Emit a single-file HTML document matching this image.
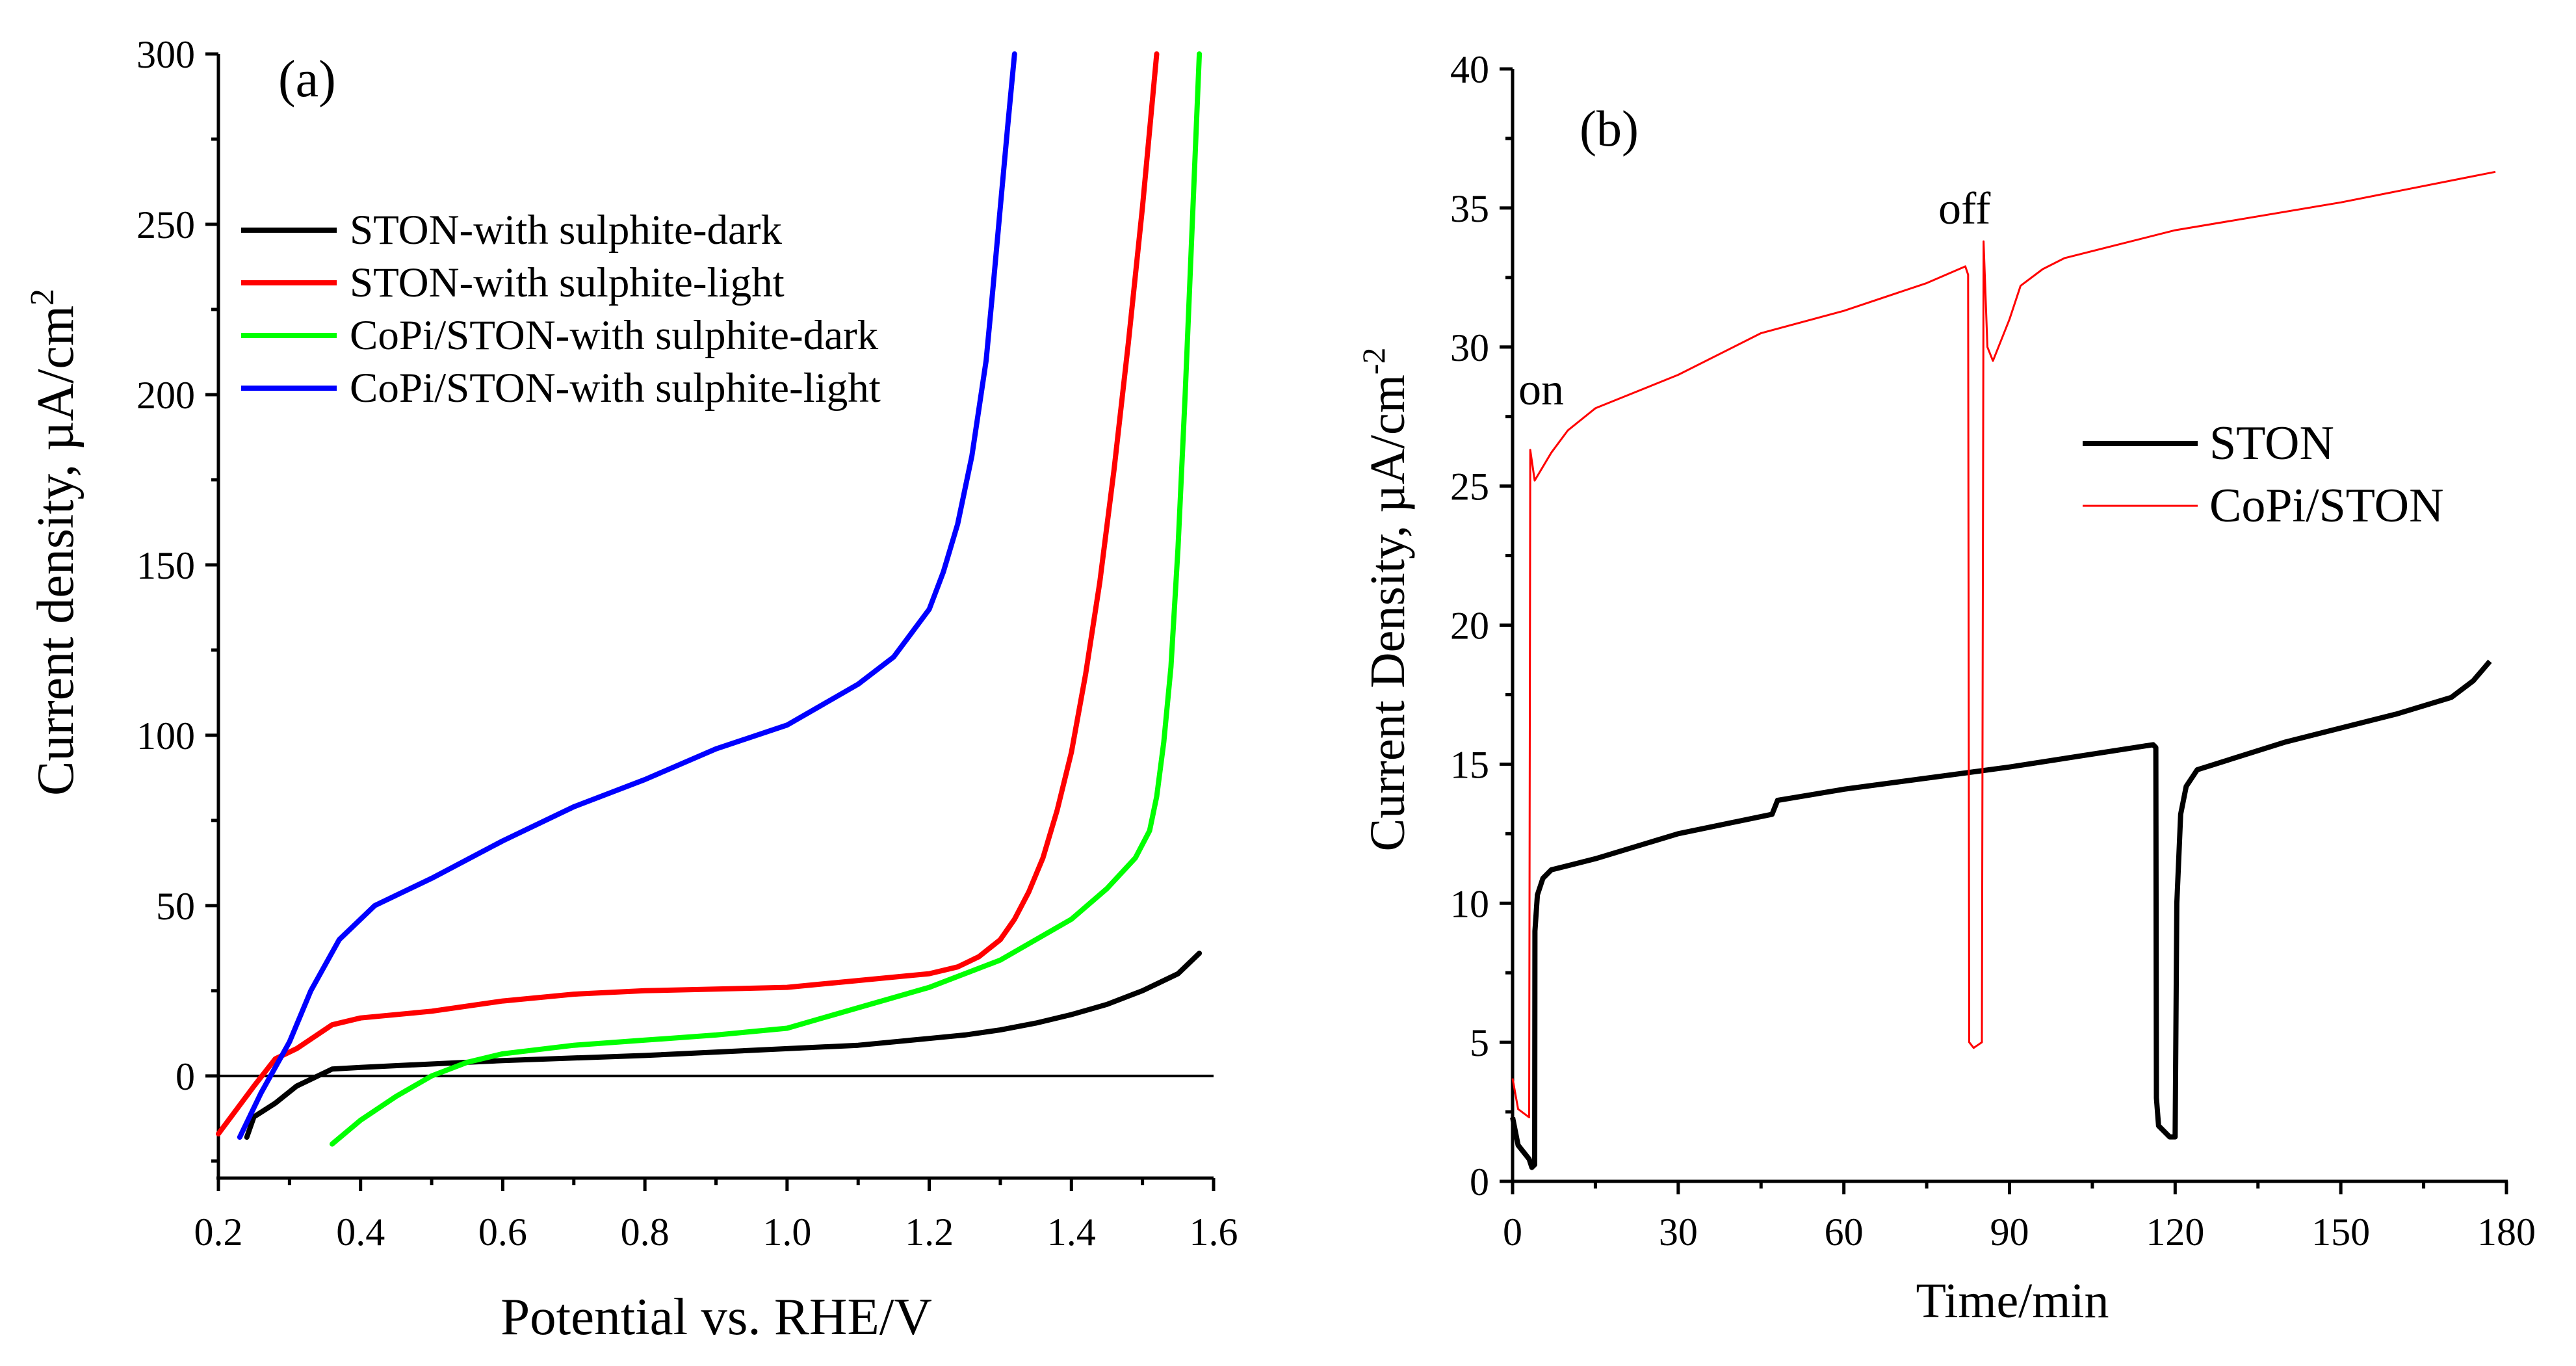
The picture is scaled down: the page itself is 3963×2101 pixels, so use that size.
<!DOCTYPE html>
<html><head><meta charset="utf-8"><style>
html,body{margin:0;padding:0;background:#fff;}
svg{display:block;font-family:"Liberation Serif",serif;}
</style></head><body>
<svg id="chart" width="3963" height="2101" viewBox="0 0 3963 2101" xmlns="http://www.w3.org/2000/svg">
<rect width="3963" height="2101" fill="#fff"/>
</svg>
<script>
// Panel (a) data: potential (V) vs current density (µA/cm²)
const aXTicks = [0.2,0.4,0.6,0.8,1.0,1.2,1.4,1.6];
const aYTicks = [0,50,100,150,200,250,300];
const aNames = ["STON-with sulphite-dark","STON-with sulphite-light","CoPi/STON-with sulphite-dark","CoPi/STON-with sulphite-light"];
const aBlackX = [0.24,0.25,0.28,0.31,0.34,0.36,0.4,0.6,0.8,1.0,1.1,1.2,1.25,1.3,1.35,1.4,1.45,1.5,1.53,1.55,1.58];
const aBlackY = [-18,-12,-8,-3,0,2,2.5,4.5,6,8,9,11,12,13.5,15.5,18,21,25,28,30,36];
const aRedX = [0.2,0.25,0.28,0.31,0.36,0.4,0.5,0.6,0.7,0.8,0.9,1.0,1.1,1.2,1.24,1.27,1.3,1.32,1.34,1.36,1.38,1.4,1.42,1.44,1.46,1.48,1.5,1.52];
const aRedY = [-17,-3,5,8,15,17,19,22,24,25,25.5,26,28,30,32,35,40,46,54,64,78,95,118,145,178,215,255,300];
const aGreenX = [0.36,0.4,0.45,0.5,0.55,0.6,0.7,0.8,0.9,1.0,1.05,1.1,1.2,1.3,1.4,1.45,1.49,1.51,1.52,1.53,1.54,1.55,1.56,1.57,1.58];
const aGreenY = [-20,-13,-6,0,4,6.5,9,10.5,12,14,17,20,26,34,46,55,64,72,82,98,120,155,200,250,300];
const aBlueX = [0.23,0.26,0.3,0.33,0.37,0.42,0.5,0.6,0.7,0.8,0.9,1.0,1.1,1.15,1.2,1.22,1.24,1.26,1.28,1.29,1.3,1.31,1.32];
const aBlueY = [-18,-5,10,25,40,50,58,69,79,87,96,103,115,123,137,148,162,182,210,232,255,278,300];
// Panel (b) data: time (min) vs current density
const bXTicks = [0,30,60,90,120,150,180];
const bYTicks = [0,5,10,15,20,25,30,35,40];
const bNames = ["STON","CoPi/STON"];
const bBlackX = [0,1,3,3.5,4,4.05,4.5,5.5,7,15,30,47,48,60,90,116,116.5,116.6,117,119,120,120.3,121,122,124,140,160,170,174,177];
const bBlackY = [2.3,1.3,0.8,0.5,0.6,9,10.3,10.9,11.2,11.6,12.5,13.2,13.7,14.1,14.9,15.7,15.6,3,2,1.6,1.6,10,13.2,14.2,14.8,15.8,16.8,17.4,18,18.7];
const bRedX = [0,1,3,3.2,4,7,10,15,30,45,60,75,82,82.5,82.7,83.5,85,85.3,86,87,90,92,96,100,120,150,178];
const bRedY = [3.7,2.6,2.3,26.3,25.2,26.2,27,27.8,29,30.5,31.3,32.3,32.9,32.6,5,4.8,5,33.8,30,29.5,31,32.2,32.8,33.2,34.2,35.2,36.3];

const svg = document.getElementById('chart');
const NS = 'http://www.w3.org/2000/svg';
function mk(tag, attrs, parent, text){
  const e = document.createElementNS(NS, tag);
  for (const k in attrs) e.setAttribute(k, attrs[k]);
  if (text !== undefined) e.textContent = text;
  (parent||svg).appendChild(e);
  return e;
}
function scale(d0,d1,r0,r1){return v=>r0+(v-d0)*(r1-r0)/(d1-d0);}

// ---------- Panel (a) ----------
const ax = scale(0.2,1.6,336,1867), ay = scale(-30,300,1812,83);
const ga = mk('g',{});


let e;
e = mk('line',{x1:336,y1:83,x2:336,y2:1812,stroke:'#000','stroke-width':5},ga);
 
e = mk('line',{x1:333,y1:1812,x2:1867,y2:1812,stroke:'#000','stroke-width':5},ga);
 
e = mk('line',{x1:336,y1:ay(0),x2:1867,y2:ay(0),stroke:'#000','stroke-width':4},ga);
 
for (let v=-25; v<=300; v+=25){
  const major = aYTicks.includes(v);
  mk('line',{x1:336,x2:336-(major?20:11),y1:ay(v),y2:ay(v),stroke:'#000','stroke-width':5},ga);
}
aYTicks.forEach(v=>{
  e = mk('text',{x:300,y:ay(v)+21,'font-size':60,'text-anchor':'end'},ga,String(v));
   
});
for (let i=0;i<=14;i++){
  const v = 0.2+i*0.1, major = i%2===0;
  mk('line',{x1:ax(v),x2:ax(v),y1:1812,y2:1812+(major?20:11),stroke:'#000','stroke-width':5},ga);
}
aXTicks.forEach(v=>{
  e = mk('text',{x:ax(v),y:1915,'font-size':60,'text-anchor':'middle'},ga,v.toFixed(1));
   
});
e = mk('text',{x:1102,y:2052,'font-size':81,'text-anchor':'middle'},ga,'Potential vs. RHE/V');
 
e = mk('text',{x:0,y:0,'font-size':80,'text-anchor':'middle',transform:'translate(112,834) rotate(-90)'},ga);
 
e.appendChild(document.createTextNode('Current density, µA/cm'));
mk('tspan',{'font-size':52,dy:-30},e,'2');
e = mk('text',{x:428,y:148,'font-size':80},ga,'(a)');
 
const aColors = ['#000','#f00','#0f0','#00f'];
const aSeries = [[aBlackX,aBlackY],[aRedX,aRedY],[aGreenX,aGreenY],[aBlueX,aBlueY]];
const aSeriesNames = ['a-series-ston-dark','a-series-ston-light','a-series-copi-dark','a-series-copi-light'];
aSeries.forEach((s,i)=>{
  const pts = s[0].map((x,j)=>ax(x).toFixed(1)+','+ay(s[1][j]).toFixed(1)).join(' ');
  const p = mk('polyline',{points:pts,fill:'none',stroke:aColors[i],'stroke-width':8,'stroke-linejoin':'round','stroke-linecap':'round'},ga);
  
  
});
aNames.forEach((n,i)=>{
  const y = 354+i*81;
  const g = mk('g',{},ga);
  
  
  mk('line',{x1:371,x2:518,y1:y,y2:y,stroke:aColors[i],'stroke-width':8},g);
  mk('text',{x:538,y:y+21,'font-size':65},g,n);
});

// ---------- Panel (b) ----------
const bx = scale(0,180,2327,3856), by = scale(0,40,1817,106);
const gb = mk('g',{});


e = mk('line',{x1:2327,y1:106,x2:2327,y2:1817,stroke:'#000','stroke-width':5},gb);
 
e = mk('line',{x1:2324,y1:1817,x2:3858,y2:1817,stroke:'#000','stroke-width':5},gb);
 
for (let v=0; v<=40; v+=2.5){
  const major = v%5===0;
  mk('line',{x1:2327,x2:2327-(major?20:11),y1:by(v),y2:by(v),stroke:'#000','stroke-width':5},gb);
}
bYTicks.forEach(v=>{
  e = mk('text',{x:2291,y:by(v)+21,'font-size':60,'text-anchor':'end'},gb,String(v));
   
});
for (let v=0; v<=180; v+=15){
  const major = v%30===0;
  mk('line',{x1:bx(v),x2:bx(v),y1:1817,y2:1817+(major?20:11),stroke:'#000','stroke-width':5},gb);
}
bXTicks.forEach(v=>{
  e = mk('text',{x:bx(v),y:1915,'font-size':60,'text-anchor':'middle'},gb,String(v));
   
});
e = mk('text',{x:3096,y:2026,'font-size':76,'text-anchor':'middle'},gb,'Time/min');
 
e = mk('text',{x:0,y:0,'font-size':76,'text-anchor':'middle',transform:'translate(2160,922) rotate(-90)'},gb);
 
e.appendChild(document.createTextNode('Current Density, µA/cm'));
mk('tspan',{'font-size':50,dy:-30},e,'-2');
e = mk('text',{x:2430,y:224,'font-size':78},gb,'(b)');
 
e = mk('text',{x:2336,y:622,'font-size':70},gb,'on');
 
e = mk('text',{x:2982,y:344,'font-size':70},gb,'off');
 
const bColors = ['#000','#f00'], bWidths = [8,3];
const bSeries = [[bBlackX,bBlackY],[bRedX,bRedY]];
const bSeriesNames = ['b-series-ston','b-series-copi-ston'];
bSeries.forEach((s,i)=>{
  const pts = s[0].map((x,j)=>bx(x).toFixed(1)+','+by(s[1][j]).toFixed(1)).join(' ');
  const p = mk('polyline',{points:pts,fill:'none',stroke:bColors[i],'stroke-width':bWidths[i],'stroke-linejoin':'round'},gb);
  
  
});
bNames.forEach((n,i)=>{
  const y = 682+i*96;
  const g = mk('g',{},gb);
  
  
  mk('line',{x1:3204,x2:3381,y1:y,y2:y,stroke:bColors[i],'stroke-width':bWidths[i]},g);
  mk('text',{x:3399,y:y+24,'font-size':74},g,n);
});
</script>
</body></html>
